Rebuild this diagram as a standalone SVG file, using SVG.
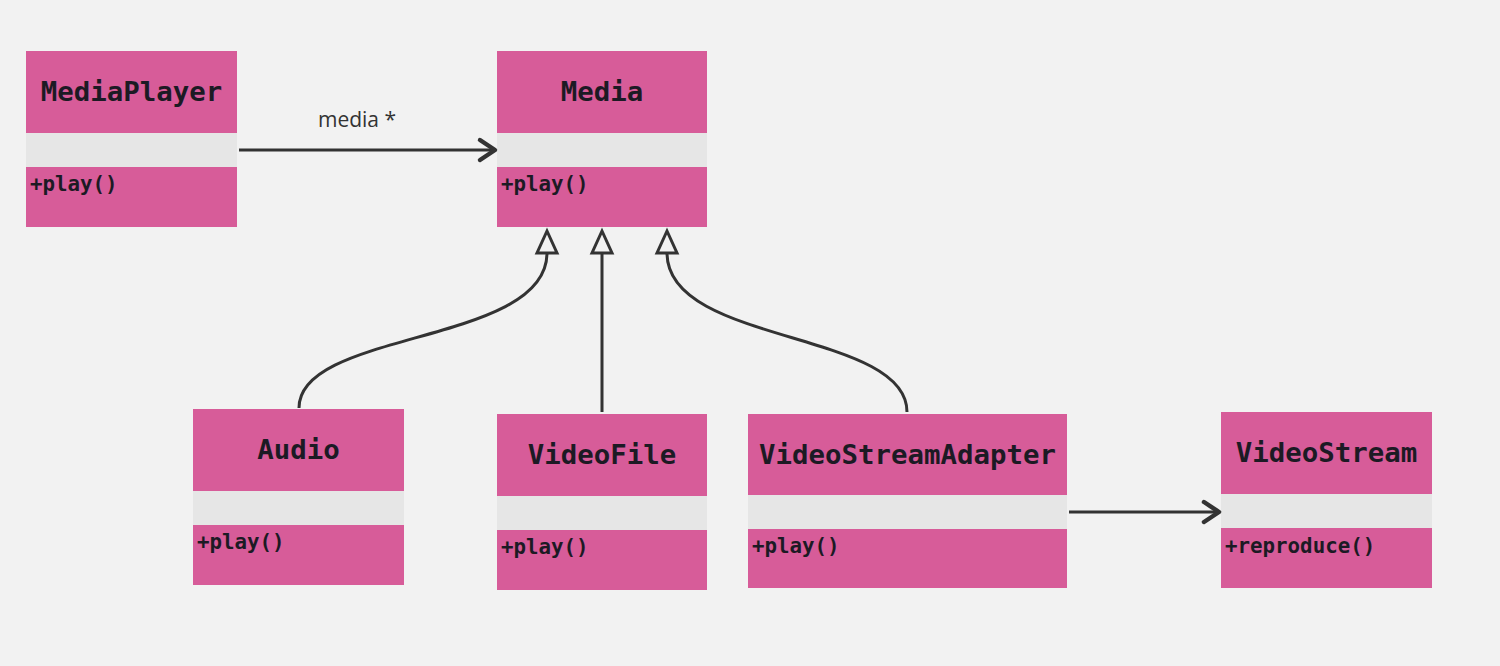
<svg xmlns="http://www.w3.org/2000/svg" width="1500" height="666" viewBox="0 0 1500 666">
<defs>
<style>
.hd{fill:#D75C99}
.mid{fill:#E6E6E6}
.title{font-family:"DejaVu Sans Mono","Liberation Mono",monospace;font-weight:bold;font-size:27.4px;fill:#1c1a24;text-anchor:middle}
.meth{font-family:"DejaVu Sans Mono","Liberation Mono",monospace;font-weight:bold;font-size:20.8px;fill:#1c1a24}
.edge{fill:none;stroke:#333;stroke-width:3}
.tri{fill:#F2F2F2;stroke:#333;stroke-width:3;stroke-linejoin:miter}
.chev{fill:none;stroke:#333;stroke-width:4.5;stroke-linejoin:round;stroke-linecap:round}
.lbl{font-family:"Open Sans","Noto Sans",sans-serif;font-size:21px;fill:#333;text-anchor:middle}
</style>
</defs>
<rect width="1500" height="666" fill="#F2F2F2"/>

<g id="MediaPlayer">
<rect class="hd" x="26" y="51" width="211" height="82"/>
<rect class="mid" x="26" y="133" width="211" height="34"/>
<rect class="hd" x="26" y="167" width="211" height="60"/>
<text class="title" x="131.5" y="101">MediaPlayer</text>
<text class="meth" x="30" y="191">+play()</text>
</g>

<g id="Media">
<rect class="hd" x="497" y="51" width="210" height="82"/>
<rect class="mid" x="497" y="133" width="210" height="34"/>
<rect class="hd" x="497" y="167" width="210" height="60"/>
<text class="title" x="602" y="101">Media</text>
<text class="meth" x="501" y="191">+play()</text>
</g>

<g id="Audio">
<rect class="hd" x="193" y="409" width="211" height="82"/>
<rect class="mid" x="193" y="491" width="211" height="34"/>
<rect class="hd" x="193" y="525" width="211" height="60"/>
<text class="title" x="298.5" y="459">Audio</text>
<text class="meth" x="197" y="549">+play()</text>
</g>

<g id="VideoFile">
<rect class="hd" x="497" y="414" width="210" height="82"/>
<rect class="mid" x="497" y="496" width="210" height="34"/>
<rect class="hd" x="497" y="530" width="210" height="60"/>
<text class="title" x="602" y="464">VideoFile</text>
<text class="meth" x="501" y="554">+play()</text>
</g>

<g id="VideoStreamAdapter">
<rect class="hd" x="748" y="414" width="319" height="81"/>
<rect class="mid" x="748" y="495" width="319" height="34"/>
<rect class="hd" x="748" y="529" width="319" height="59"/>
<text class="title" x="907.5" y="464">VideoStreamAdapter</text>
<text class="meth" x="752" y="553">+play()</text>
</g>

<g id="VideoStream">
<rect class="hd" x="1221" y="412" width="211" height="82"/>
<rect class="mid" x="1221" y="494" width="211" height="34"/>
<rect class="hd" x="1221" y="528" width="211" height="60"/>
<text class="title" x="1326.5" y="462">VideoStream</text>
<text class="meth" x="1225" y="553">+reproduce()</text>
</g>

<g id="connectors">
<path class="edge" d="M239,150 L494,150"/>
<path class="chev" d="M480,140 L495,150 L480,160"/>
<text class="lbl" x="357" y="127">media *</text>

<path class="edge" d="M299,408 C299,330 547,345 547,253"/>
<path class="tri" d="M547,231 L537,253 L557,253 Z"/>

<path class="edge" d="M602,412 L602,253"/>
<path class="tri" d="M602,231 L592,253 L612,253 Z"/>

<path class="edge" d="M907,412 C907,330 667,345 667,253"/>
<path class="tri" d="M667,231 L657,253 L677,253 Z"/>

<path class="edge" d="M1069,512 L1218,512"/>
<path class="chev" d="M1204,502 L1219,512 L1204,522"/>
</g>
</svg>
